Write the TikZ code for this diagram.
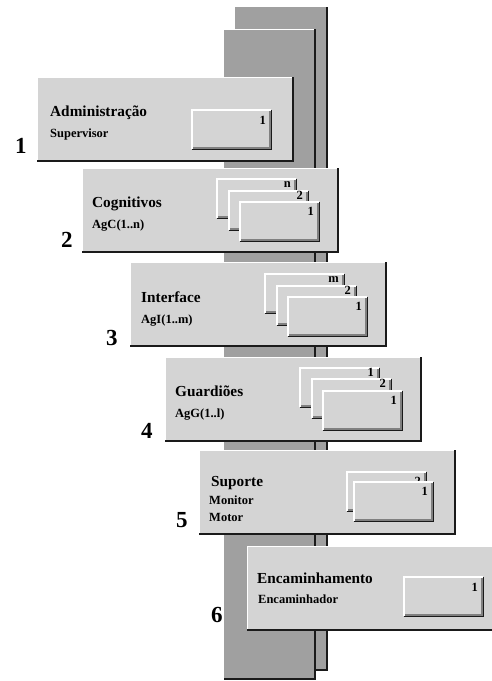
\documentclass[tikz,border=0pt]{standalone}
\usepackage{fontspec}
\setmainfont{Liberation Serif}
\definecolor{panelgray}{HTML}{D4D4D4}
\definecolor{pillargray}{HTML}{A0A0A0}
\definecolor{edgedark}{HTML}{1A1A1A}
\tikzset{
  titletext/.style={anchor=base west, inner sep=0pt, font=\fontsize{15.3}{17}\selectfont\bfseries},
  subtext/.style={anchor=base west, inner sep=0pt, font=\fontsize{12.5}{14}\selectfont\bfseries},
  bignum/.style={anchor=base west, inner sep=0pt, font=\fontsize{23}{25}\selectfont\bfseries},
  boxnum/.style={anchor=base east, inner sep=0pt, font=\fontsize{12.5}{14}\selectfont\bfseries},
}
% panel: x, y (top-left)
\newcommand\mypanel[2]{%
  \fill[panelgray] (#1,#2) rectangle ++(256,84);
  \draw[white,line width=1pt] (#1,#2+84) -- (#1,#2) -- (#1+256,#2);
  \draw[edgedark,line width=1.6pt] (#1+256,#2) -- (#1+256,#2+84) -- (#1,#2+84);
}
% inner box: x, y, label, label baseline offset, name
\newcommand\myibox[5]{%
  \fill[panelgray] (#1,#2) rectangle ++(79,39);
  \draw[white,line width=1.3pt] (#1,#2+39) -- (#1,#2) -- (#1+79,#2);
  \draw[gray,line width=1.6pt] (#1+78,#2+1) -- (#1+78,#2+38) -- (#1+1,#2+38);
  \draw[edgedark,line width=1pt] (#1+79.5,#2) -- (#1+79.5,#2+39.5) -- (#1,#2+39.5);
  \node[boxnum] (#5) at (#1+74,#2+#4) {#3};
}
\begin{document}
\begin{tikzpicture}[x=1pt,y=-1pt]
\path[use as bounding box] (0,0) rectangle (492,681);
% rear pillar
\fill[pillargray] (235,7) rectangle (327,670);
\draw[edgedark,line width=1.6pt] (327,7) -- (327,670) -- (316,670);
% front pillar
\fill[pillargray] (224,29) rectangle (315,679);
\draw[white,line width=1pt] (224,29) -- (315,29);
\draw[edgedark,line width=1.6pt] (315,29) -- (315,679) -- (224,679);

% panel 1
\mypanel{37}{77}
\node[titletext] (t1) at (50,116) {Administração};
\node[subtext] (s1) at (50,137) {Supervisor};
\node[bignum] (n1) at (15,153) {1};
\myibox{192}{110}{1}{14}{b11}

% panel 2
\mypanel{82}{168}
\node[titletext] (t2) at (92,207) {Cognitivos};
\node[subtext] (s2) at (92,228) {AgC(1..n)};
\node[bignum] (n2) at (61,247) {2};
\myibox{217}{179}{n}{8}{b2n}
\myibox{229}{191}{2}{8}{b22}
\myibox{240}{202}{1}{13}{b21}

% panel 3
\mypanel{130}{262}
\node[titletext] (t3) at (141,302) {Interface};
\node[subtext] (s3) at (141,323) {AgI(1..m)};
\node[bignum] (n3) at (106,345) {3};
\myibox{265}{274}{m}{8}{b3m}
\myibox{277}{286}{2}{8}{b32}
\myibox{288}{297}{1}{13}{b31}

% panel 4
\mypanel{165}{357}
\node[titletext] (t4) at (175,396) {Guardiões};
\node[subtext] (s4) at (175,417) {AgG(1..l)};
\node[bignum] (n4) at (141,438) {4};
\myibox{300}{368}{1}{8}{b4l}
\myibox{312}{379}{2}{8}{b42}
\myibox{323}{391}{1}{13}{b41}

% panel 5
\mypanel{199}{450}
\node[titletext] (t5) at (211,486) {Suporte};
\node[subtext] (s5a) at (209,504) {Monitor};
\node[subtext] (s5b) at (209,521) {Motor};
\node[bignum] (n5) at (176,527) {5};
\myibox{347}{472}{2}{13}{b52}
\myibox{354}{482}{1}{13}{b51}

% panel 6
\mypanel{247}{546}
\node[titletext] (t6) at (257,583) {Encaminhamento};
\node[subtext] (s6) at (258,603) {Encaminhador};
\node[bignum] (n6) at (211,622) {6};
\myibox{404}{577}{1}{14}{b61}
\end{tikzpicture}
\end{document}
